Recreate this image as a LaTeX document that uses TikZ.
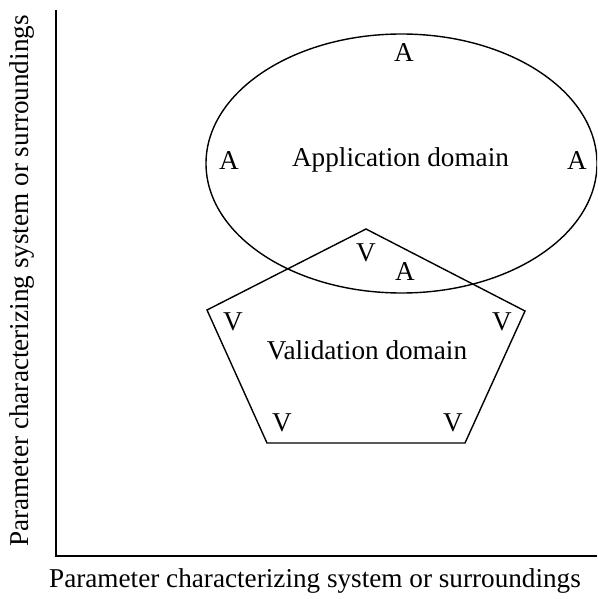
\documentclass[tikz,border=0pt]{standalone}
\usepackage{fontspec}
\setmainfont{Liberation Serif}
\usetikzlibrary{shapes.geometric}
\begin{document}
\begin{tikzpicture}[x=1pt,y=-1pt,
  every node/.style={font=\fontsize{27.2}{31}\selectfont, inner sep=0pt},
  outline/.style={line width=1.4pt, black},
  axisline/.style={line width=2pt, black}]
\useasboundingbox (0,0) rectangle (597,599);
\clip (0,0) rectangle (597,599);

% axes
\coordinate (ytop) at (56,10);
\coordinate (origin) at (56,556);
\coordinate (xend) at (597,556);
\draw[axisline] (ytop) -- (origin) -- (xend);
\node (xlabel) at (315,581) {Parameter characterizing system or surroundings};
\node[rotate=90] (ylabel) at (22,281) {Parameter characterizing system or surroundings};

% application domain
\node[outline, draw, ellipse, minimum width=391pt, minimum height=259pt] (app) at (401.5,163.5) {};
\node (atop) at (404,53) {A};
\node (aleft) at (229,161) {A};
\node (aright) at (577,161) {A};
\node (abottom) at (405,272) {A};
\node (appname) at (400.5,160) {Application domain};

% validation domain
\coordinate (p1) at (366,229);
\coordinate (p2) at (525,311);
\coordinate (p3) at (465,443);
\coordinate (p4) at (267,443);
\coordinate (p5) at (207,310);
\draw[outline, line join=miter] (p1) -- (p2) -- (p3) -- (p4) -- (p5) -- cycle;
\node (v1) at (366,253) {V};
\node (v2) at (233,322) {V};
\node (v3) at (502,322) {V};
\node (v4) at (282,423) {V};
\node (v5) at (453,423) {V};
\node (valname) at (367,350) {Validation domain};
\end{tikzpicture}
\end{document}
